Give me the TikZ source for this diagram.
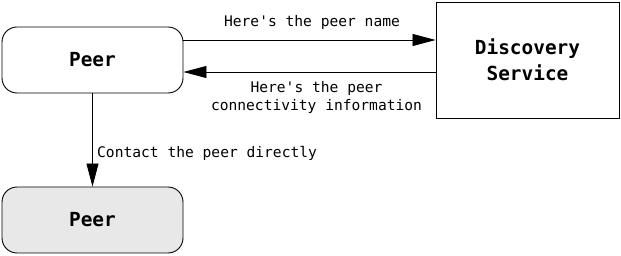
\documentclass[tikz,border=0pt]{standalone}
\usepackage{fontspec}
\setmonofont{DejaVu Sans Mono}
\usetikzlibrary{arrows.meta}
\begin{document}
\begin{tikzpicture}[x=1pt,y=-1pt,
  box/.style={draw=black, line width=0.9pt, inner sep=0pt, font=\ttfamily\bfseries\fontsize{19.4}{26}\selectfont, align=center},
  peerbox/.style={box, rounded corners=15pt, minimum width=181pt, minimum height=66pt},
  lbl/.style={font=\ttfamily\fontsize{14.6}{18}\selectfont, inner sep=0pt, align=center},
  conn/.style={draw=black, line width=0.8pt, -{Triangle[length=23pt,width=12pt]}}]
\useasboundingbox (0,0) rectangle (621,256);
\node[peerbox] (p1) at (92.5,60) {Peer};
\node[peerbox, fill=black!9] (p2) at (92.5,220) {Peer};
\node[box, minimum width=183pt, minimum height=116pt] (ds) at (527.5,60) {Discovery\\Service};
\coordinate (a1s) at (p1.east |- 0,40);
\coordinate (a1e) at (ds.west |- 0,40);
\coordinate (a2s) at (ds.west |- 0,72);
\coordinate (a2e) at (p1.east |- 0,72);
\draw[conn] (a1s) -- (a1e);
\draw[conn] (a2s) -- (a2e);
\draw[conn] (p1.south) -- (p2.north);
\node[lbl] (l1) at (312,22) {Here's the peer name};
\node[lbl] (l2) at (316.5,97) {Here's the peer\\connectivity information};
\node[lbl, anchor=west] (l3) at (97,153) {Contact the peer directly};
\end{tikzpicture}
\end{document}
